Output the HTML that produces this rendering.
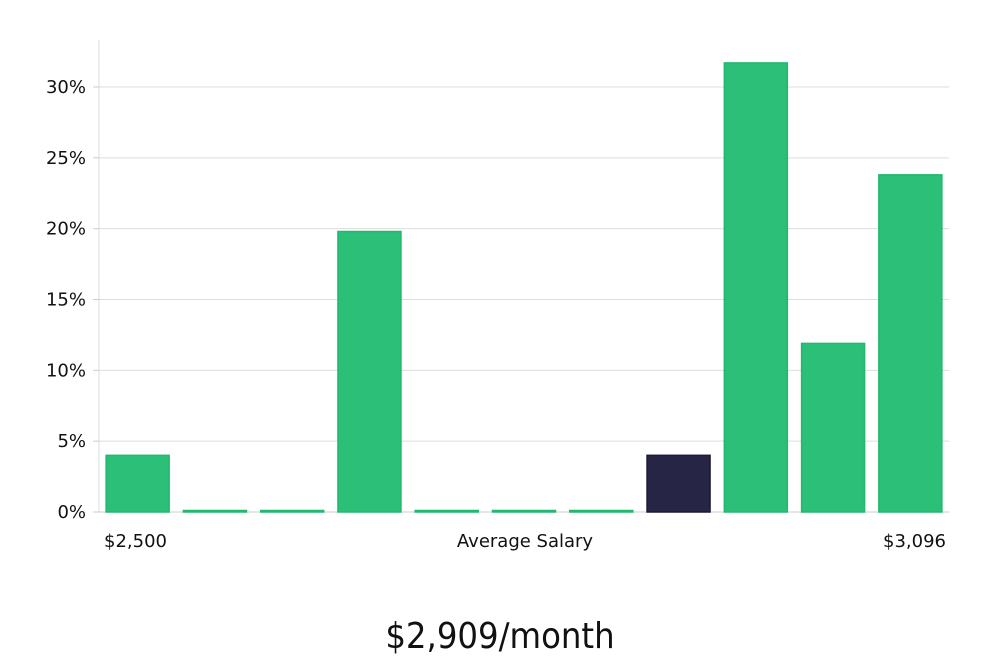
<!DOCTYPE html>
<html><head><meta charset="utf-8"><style>
body{margin:0;background:#fff;width:1000px;height:660px;overflow:hidden}
svg text{font-family:"DejaVu Sans","Liberation Sans",sans-serif}
</style></head><body>
<svg width="1000" height="660">
<g id="grid"></g><g id="bars"></g><g id="labels"></g>
<text x="500" y="648" text-anchor="middle" font-size="36" font-weight="300" fill="#111" style="font-family:'DejaVu Sans Condensed','DejaVu Sans',sans-serif">$2,909/month</text>
</svg>
<script>
const categories=["b1","b2","b3","b4","b5","b6","b7","b8","b9","b10","b11"];
const values=[4.0,0,0,19.8,0,0,0,4.0,31.7,11.9,23.8];
const highlight=[false,false,false,false,false,false,false,true,false,false,false];
const yTicks=[0,5,10,15,20,25,30];
const xLabels=["$2,500","Average Salary","$3,096"];
const NS="http://www.w3.org/2000/svg";
const x0=99,x1=949,y0=512,yPer=(512-87)/30;
const y=v=>y0-v*yPer;
const band=(x1-x0)/categories.length,bw=63;
function mk(t,a,p){const e=document.createElementNS(NS,t);for(const k in a)e.setAttribute(k,a[k]);p.appendChild(e);return e;}
const g=document.getElementById('grid');
const ax=mk('line',{x1:x0,x2:x0,y1:40,y2:y0,stroke:'#ddd'},g);


yTicks.forEach(t=>{
 const l=mk('line',{x1:x0,x2:x1,y1:y(t),y2:y(t),stroke:t===0?'#ccc':'#ddd'},g);
 
 
 mk('line',{x1:x0-6,x2:x0,y1:y(t),y2:y(t),stroke:'#ccc'},g);
 const tx=mk('text',{x:86,y:y(t)+6,'text-anchor':'end','font-size':18,fill:'#111'},g);
 tx.textContent=t+'%';
 
 
});
const b=document.getElementById('bars');
values.forEach((v,i)=>{
 const cx=x0+band*(i+0.5);
 const h=Math.max(y0-y(v),1.5);
 const r=mk('rect',{x:cx-bw/2,y:y0-h,width:bw,height:h,fill:highlight[i]?'#272546':'#2bbf78',stroke:highlight[i]?'#1c1a36':'#22b86e','stroke-width':1.5},b);
 
 
});
const lb=document.getElementById('labels');
const lx=[104,525,946],la=['start','middle','end'];
xLabels.forEach((s,i)=>{
 const t=mk('text',{x:lx[i],y:547,'text-anchor':la[i],'font-size':18,fill:'#111'},lb);
 t.textContent=s;
 
 
});
</script>
</body></html>
